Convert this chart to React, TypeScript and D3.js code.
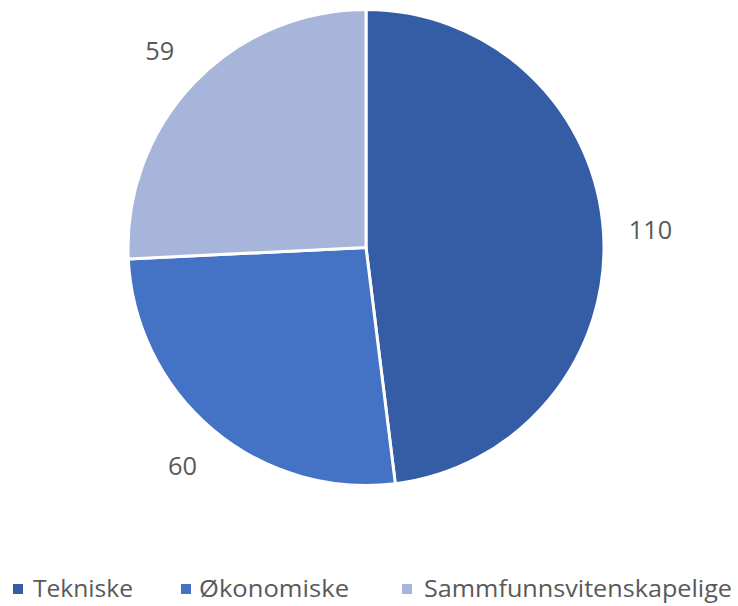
import React from "react";
import * as d3 from "d3";

const categories = ["Tekniske", "Økonomiske", "Sammfunnsvitenskapelige"];
const values = [110, 60, 59];
const colors = ["#355DA5", "#4472C4", "#A8B5DA"];

const W = 738, H = 606;
const cx = 366, cy = 247.5, R = 238, labelR = 285;

const legendItems = [
  { sq: 13, tx: 33, len: 100 },
  { sq: 181, tx: 199, len: 150 },
  { sq: 402, tx: 424, len: 308 },
];

export default function App() {
  const pie = d3.pie<number>().sort(null).value((d) => d);
  const arcs = pie(values);
  const arc = d3.arc<d3.PieArcDatum<number>>().innerRadius(0).outerRadius(R);
  const labelArc = d3.arc<d3.PieArcDatum<number>>().innerRadius(labelR).outerRadius(labelR);
  return (
    <svg width={W} height={H} style={{ position: "absolute", left: 0, top: 0, background: "#fff" }}
      fontFamily="'Open Sans', 'Liberation Sans', sans-serif">
      <g transform={`translate(${cx},${cy})`}>
        {arcs.map((a, i) => (
          <path key={i} d={arc(a) || ""} fill={colors[i]} stroke="#fff" strokeWidth={3} strokeLinejoin="round" />
        ))}
        {arcs.map((a, i) => {
          const [x, y] = labelArc.centroid(a);
          return (
            <text key={i} x={x} y={y} dy="0.36em" textAnchor="middle" fontSize={26} fill="#595959"
              textLength={String(values[i]).length * 14.5} lengthAdjust="spacingAndGlyphs">
              {values[i]}
            </text>
          );
        })}
      </g>
      {categories.map((c, i) => (
        <g key={c}>
          <rect x={legendItems[i].sq} y={584} width={10} height={10} fill={colors[i]} />
          <text x={legendItems[i].tx} y={597} fontSize={23} fill="#595959"
            textLength={legendItems[i].len} lengthAdjust="spacingAndGlyphs">{c}</text>
        </g>
      ))}
    </svg>
  );
}
